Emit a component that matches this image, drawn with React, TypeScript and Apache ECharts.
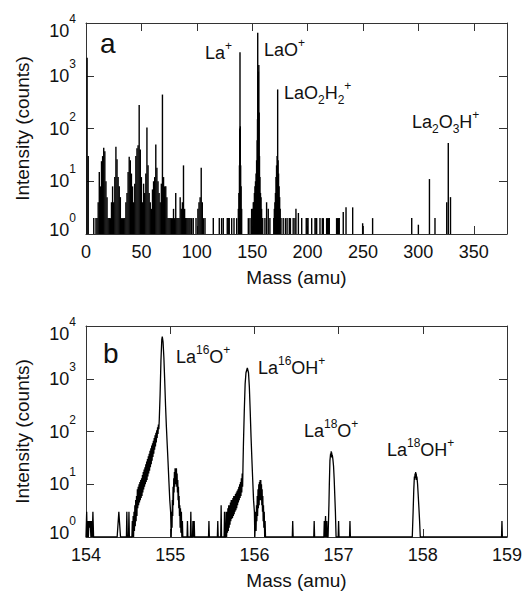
import React, { useEffect, useRef } from 'react';
import * as echarts from 'echarts';

const FONT = '"Liberation Sans", Arial, Helvetica, sans-serif';
const INK = '#111';

// Panel a: mass (amu), counts
const spectrumA: [number, number][] = [
  [1, 2200], [2, 30], [7, 2], [9, 2], [10, 2], [11, 4], [12, 15], [13, 8], [14, 24], [15, 30], [16, 43], [17, 37], [18, 10],
  [19, 5], [20, 2], [21, 2], [22, 2], [23, 4], [24, 8], [25, 4], [26, 12], [27, 45], [28, 26], [29, 12], [30, 8], [31, 5],
  [32, 2], [33, 2], [34, 2], [35, 2], [36, 4], [37, 6], [38, 15], [39, 29], [40, 25], [41, 14], [42, 8], [43, 4], [44, 9],
  [45, 30], [46, 42], [47, 48], [48, 280], [49, 40], [50, 12], [51, 4], [52, 9], [53, 6], [54, 14], [55, 105], [56, 20],
  [57, 6], [58, 4], [59, 3], [60, 7], [61, 10], [62, 12], [63, 50], [64, 18], [65, 10], [66, 6], [67, 4], [68, 9], [69, 440],
  [70, 12], [71, 8], [72, 8], [73, 5], [74, 2], [75, 2], [76, 2], [77, 2], [78, 2], [79, 3], [80, 2], [81, 6], [82, 2],
  [83, 2], [84, 2], [85, 5], [86, 3], [87, 4], [88, 20], [89, 3], [90, 2], [91, 2], [92, 2], [93, 2], [94, 2], [95.4, 2],
  [96.8, 2], [99.3, 2], [101, 3], [102, 4], [103, 5], [104, 18], [105, 4], [106, 2], [107.4, 2], [114.9, 2], [120.3, 2],
  [122.4, 2], [123.9, 2], [127.5, 2], [128.4, 2], [129.3, 2], [131.5, 2], [133.6, 2], [136, 2], [137.5, 3], [138, 6],
  [138.5, 20], [138.8, 100], [139, 2800], [139.3, 110], [139.6, 20], [140, 8], [140.5, 3], [146.5, 2], [148, 2], [149.5, 3],
  [150.5, 3], [151, 4], [151.5, 4], [152, 6], [152.5, 8], [153, 10], [153.5, 14], [154, 25], [154.5, 60], [154.8, 150],
  [155, 6500], [155.3, 1000], [155.6, 1200], [156, 1600], [156.3, 200], [156.6, 30], [157, 12], [157.5, 6], [158, 5],
  [158.5, 3], [159.5, 2], [161.5, 2], [163, 4], [164.5, 3], [166, 2], [169.5, 2], [170, 3], [170.5, 4], [171, 6],
  [171.5, 12], [172, 20], [172.5, 30], [173, 550], [173.4, 25], [173.8, 14], [174.3, 8], [174.8, 5], [175.3, 3], [176, 2],
  [178, 2], [180, 2], [181.5, 2], [183.5, 2], [184.5, 2], [187, 2], [188.6, 2], [189.5, 3], [191.7, 2.5], [194.7, 2],
  [198.8, 2], [199.6, 2], [200.4, 2], [203.7, 2], [206.7, 2], [207.6, 2], [208.2, 2], [211.2, 2], [213.3, 2], [214.2, 2],
  [217.2, 2], [218, 2], [218.8, 2], [219.6, 2], [226.2, 2], [227, 2], [227.8, 2], [228.6, 2], [232.2, 2.6], [234.7, 3.2],
  [240.7, 3.2], [249.7, 1.6], [258.7, 2], [294, 2], [300, 1.5], [310, 11], [315, 2], [325.6, 4], [327, 53], [329, 5],
];

// Panel b: high-resolution trace, mass (amu), counts
const spectrumB: [number, number][] = [
  [154.0, 1], [154.008, 3], [154.014, 1], [154.02, 2], [154.028, 1], [154.035, 2], [154.042, 1.5], [154.05, 2], [154.058, 1],
  [154.066, 2], [154.074, 1], [154.082, 3], [154.09, 1], [154.37, 1], [154.39, 3], [154.41, 1], [154.48, 1], [154.485, 3],
  [154.49, 1], [154.505, 1], [154.51, 3], [154.515, 1],
  // La16O+ low-mass tail
  [154.545, 1], [154.55, 2], [154.555, 1], [154.56, 2.5], [154.565, 1], [154.57, 3], [154.575, 1.3], [154.58, 4],
  [154.585, 1.6], [154.59, 5], [154.595, 2], [154.6, 6], [154.605, 2.5], [154.61, 8], [154.615, 3.5], [154.62, 9],
  [154.625, 4], [154.63, 10], [154.635, 4.5], [154.64, 11], [154.645, 5], [154.65, 12], [154.655, 5.5], [154.66, 13],
  [154.665, 6], [154.67, 15], [154.675, 7], [154.68, 17], [154.685, 8], [154.69, 19], [154.695, 9], [154.7, 21],
  [154.705, 10], [154.71, 24], [154.715, 11], [154.72, 27], [154.725, 12], [154.73, 30], [154.735, 14], [154.74, 34],
  [154.745, 16], [154.75, 38], [154.755, 18], [154.76, 43], [154.765, 21], [154.77, 48], [154.775, 24], [154.78, 54],
  [154.785, 28], [154.79, 60], [154.795, 33], [154.8, 67], [154.805, 38], [154.81, 75], [154.815, 45], [154.82, 85],
  [154.825, 52], [154.83, 95], [154.835, 62], [154.84, 105], [154.845, 75], [154.85, 120], [154.855, 90], [154.86, 135],
  [154.865, 110], [154.87, 165],
  // La16O+ peak
  [154.88, 500], [154.89, 2200], [154.9, 5500], [154.906, 6300], [154.915, 5000], [154.925, 2500], [154.935, 900],
  [154.945, 300], [154.955, 120], [154.965, 55], [154.975, 25], [154.985, 11], [154.995, 5], [155.005, 3], [155.012, 1],
  // side bump
  [155.018, 3], [155.022, 1.5], [155.026, 5], [155.03, 2.5], [155.034, 9], [155.038, 4], [155.042, 13], [155.046, 7],
  [155.05, 17], [155.054, 9], [155.058, 20], [155.062, 10], [155.066, 19], [155.07, 10], [155.074, 20], [155.078, 9],
  [155.082, 16], [155.086, 7], [155.09, 12], [155.094, 5], [155.098, 9], [155.102, 3.5], [155.106, 6], [155.11, 2.5],
  [155.114, 4], [155.118, 1.5], [155.122, 3.5], [155.127, 1.2], [155.133, 3], [155.138, 1], [155.145, 2], [155.15, 1],
  [155.2, 1], [155.205, 2], [155.21, 1], [155.24, 1], [155.245, 3], [155.25, 1], [155.265, 1], [155.27, 2], [155.275, 1],
  [155.28, 1], [155.285, 2], [155.29, 1], [155.455, 1], [155.46, 2], [155.465, 1], [155.56, 1], [155.565, 2], [155.57, 1],
  // La16OH+ low-mass tail
  [155.6, 1], [155.605, 4], [155.61, 1], [155.64, 1], [155.645, 3], [155.65, 1], [155.66, 1], [155.665, 3], [155.67, 1],
  [155.675, 3], [155.68, 1.2], [155.685, 3.5], [155.69, 1.3], [155.695, 4], [155.7, 1.5], [155.705, 4], [155.71, 1.7],
  [155.715, 4.5], [155.72, 2], [155.725, 5], [155.73, 2.2], [155.735, 5], [155.74, 2.3], [155.745, 5.5], [155.75, 2.5],
  [155.755, 6], [155.76, 2.7], [155.765, 6], [155.77, 3], [155.775, 6.5], [155.78, 3.2], [155.785, 7], [155.79, 3.5],
  [155.795, 7.5], [155.8, 4], [155.805, 8], [155.81, 4.5], [155.815, 9], [155.82, 5], [155.825, 10], [155.83, 5.5],
  [155.835, 11], [155.84, 6], [155.845, 13], [155.85, 7], [155.855, 16], [155.86, 9], [155.865, 25],
  // La16OH+ peak
  [155.87, 60], [155.88, 250], [155.89, 800], [155.9, 1300], [155.916, 1600], [155.93, 1300], [155.94, 700], [155.95, 250],
  [155.96, 80], [155.97, 30], [155.98, 12], [155.99, 5], [156.0, 3], [156.005, 1],
  // side bump
  [156.012, 1], [156.016, 3], [156.02, 1.3], [156.025, 4], [156.029, 2], [156.034, 6], [156.038, 2.5], [156.043, 8],
  [156.047, 3.5], [156.052, 10], [156.056, 4], [156.06, 11], [156.064, 5], [156.068, 12], [156.072, 5], [156.076, 12],
  [156.08, 5], [156.084, 10], [156.088, 4], [156.092, 8], [156.096, 3], [156.1, 6], [156.104, 2], [156.108, 4],
  [156.112, 1.5], [156.117, 3], [156.122, 1], [156.127, 2], [156.132, 1],
  [156.45, 1], [156.455, 2], [156.46, 1], [156.705, 1], [156.71, 2], [156.715, 1], [156.825, 1], [156.83, 2], [156.835, 1],
  [156.84, 1], [156.845, 2.5], [156.85, 1], [156.855, 1], [156.86, 2], [156.865, 1],
  // La18O+
  [156.875, 1], [156.885, 4], [156.89, 10], [156.897, 28], [156.902, 34], [156.905, 38], [156.909, 33], [156.912, 42],
  [156.915, 36], [156.918, 40], [156.922, 32], [156.925, 36], [156.932, 30], [156.94, 22], [156.948, 12], [156.955, 6],
  [156.962, 3], [156.97, 1],
  [156.995, 1], [157.0, 2], [157.005, 1], [157.13, 1], [157.135, 2], [157.14, 1],
  // La18OH+
  [157.875, 1], [157.885, 3], [157.893, 8], [157.9, 14], [157.904, 12], [157.908, 16], [157.912, 13], [157.915, 17],
  [157.919, 14], [157.922, 16], [157.926, 12], [157.93, 14], [157.938, 10], [157.946, 6], [157.954, 3.5], [157.962, 2],
  [157.97, 1],
  [158.935, 1], [158.94, 2], [158.945, 1], [159.0, 1],
];

const yLabelRich = {
  b: { fontSize: 18, fontFamily: FONT, color: INK, lineHeight: 36 },
  s: { fontSize: 12, fontFamily: FONT, color: INK, verticalAlign: 'top' },
  bMax: { fontSize: 18, fontFamily: FONT, color: INK, lineHeight: 36, padding: [16, 0, 0, 0] },
  sMax: { fontSize: 12, fontFamily: FONT, color: INK, verticalAlign: 'top', padding: [8, 0, 0, 0] },
  bMin: { fontSize: 18, fontFamily: FONT, color: INK, lineHeight: 44, padding: [0, 0, 8, 0] },
  sMin: { fontSize: 12, fontFamily: FONT, color: INK, verticalAlign: 'top' },
};

const annRich = {
  n: { fontSize: 18, fontFamily: FONT, fill: INK, lineHeight: 26 },
  sp: { fontSize: 12, fontFamily: FONT, fill: INK, verticalAlign: 'top' },
  sb: { fontSize: 12, fontFamily: FONT, fill: INK, verticalAlign: 'bottom' },
};

function App() {
  const ref = useRef<HTMLDivElement>(null);
  useEffect(() => {
    if (!ref.current) return;
    const chart = echarts.init(ref.current, null, { renderer: 'svg' });
    const lineStyle = { color: '#333', width: 1 };
    const tick = { show: true, inside: true, length: 8, lineStyle: { color: '#333', width: 1 } };
    const xLabel = { fontSize: 18, fontFamily: FONT, color: INK, margin: 9 };
    const nameStyle = { fontSize: 19, fontFamily: FONT, color: INK };
    const yFormatter = (v: number) => {
      const e = Math.round(Math.log10(v));
      if (e === 4) return `{bMax|10}{sMax|${e}}`;
      if (e === 0) return `{bMin|10}{sMin|${e}}`;
      return `{b|10}{s|${e}}`;
    };
    const mkX = (grid: number, min: number, max: number, interval: number, top: boolean) => ({
      type: 'value', gridIndex: grid, min, max, interval, position: top ? 'top' : 'bottom',
      axisLine: { show: true, onZero: false, lineStyle },
      axisTick: tick,
      splitLine: { show: false },
      axisLabel: top ? { show: false } : { ...xLabel, showMaxLabel: min === 0 ? false : true },
      name: top ? '' : 'Mass (amu)', nameLocation: 'middle', nameGap: 34, nameTextStyle: nameStyle,
    });
    const mkY = (grid: number, right: boolean) => ({
      type: 'log', logBase: 10, gridIndex: grid, min: 1, max: 10000, position: right ? 'right' : 'left',
      axisLine: { show: true, onZero: false, lineStyle },
      axisTick: tick,
      minorTick: { show: false },
      splitLine: { show: false },
      axisLabel: right ? { show: false } : { margin: 10, formatter: yFormatter, rich: yLabelRich },
      name: right ? '' : 'Intensity (counts)', nameLocation: 'middle', nameGap: 54, nameRotate: 90,
      nameTextStyle: nameStyle,
    });
    const ann = (x: number, y: number, text: string) => ({
      type: 'text', x, y, silent: true,
      style: { text, rich: annRich, fontSize: 18, fontFamily: FONT, fill: INK, align: 'left', verticalAlign: 'top' },
    });
    const letter = (x: number, y: number, text: string) => ({
      type: 'text', x, y, silent: true,
      style: { text, fontSize: 28, fontFamily: FONT, fill: INK, align: 'left', verticalAlign: 'middle' },
    });
    chart.setOption({
      animation: false,
      backgroundColor: '#fff',
      grid: [
        { left: 86, top: 23, width: 421, height: 211, outerBoundsMode: 'none' },
        { left: 86, top: 326, width: 421, height: 211, outerBoundsMode: 'none' },
      ],
      xAxis: [mkX(0, 0, 380, 50, false), mkX(0, 0, 380, 50, true), mkX(1, 154, 159, 1, false), mkX(1, 154, 159, 1, true)],
      yAxis: [mkY(0, false), mkY(0, true), mkY(1, false), mkY(1, true)],
      series: [
        {
          type: 'custom', xAxisIndex: 0, yAxisIndex: 0, data: spectrumA, clip: true,
          encode: { x: 0, y: 1 },
          renderItem: (_p: any, api: any) => {
            const m = api.value(0);
            const c = api.value(1);
            const p0 = api.coord([m, 1]);
            const p1 = api.coord([m, c]);
            return {
              type: 'line',
              shape: { x1: p0[0], y1: p0[1], x2: p1[0], y2: p1[1] },
              style: { stroke: '#000', lineWidth: 1.4 },
            };
          },
        },
        {
          type: 'line', xAxisIndex: 2, yAxisIndex: 2, data: spectrumB, showSymbol: false, symbol: 'none',
          lineStyle: { color: '#000', width: 1.3 }, clip: true,
        },
      ],
      graphic: [
        letter(100, 43, 'a'),
        letter(103, 353, 'b'),
        ann(205, 39.5, '{n|La}{sp|+}'),
        ann(264, 37, '{n|LaO}{sp|+}'),
        ann(284, 79.5, '{n|LaO}{sb|2}{n|H}{sb|2}{sp|+}'),
        ann(412, 108.5, '{n|La}{sb|2}{n|O}{sb|3}{n|H}{sp|+}'),
        ann(176, 343.5, '{n|La}{sp|16}{n|O}{sp|+}'),
        ann(258, 354.5, '{n|La}{sp|16}{n|OH}{sp|+}'),
        ann(304, 417.5, '{n|La}{sp|18}{n|O}{sp|+}'),
        ann(387, 436.5, '{n|La}{sp|18}{n|OH}{sp|+}'),
      ],
    });
    return () => chart.dispose();
  }, []);
  return <div ref={ref} style={{ position: 'absolute', left: 0, top: 0, width: 525, height: 592 }} />;
}

export default App;
